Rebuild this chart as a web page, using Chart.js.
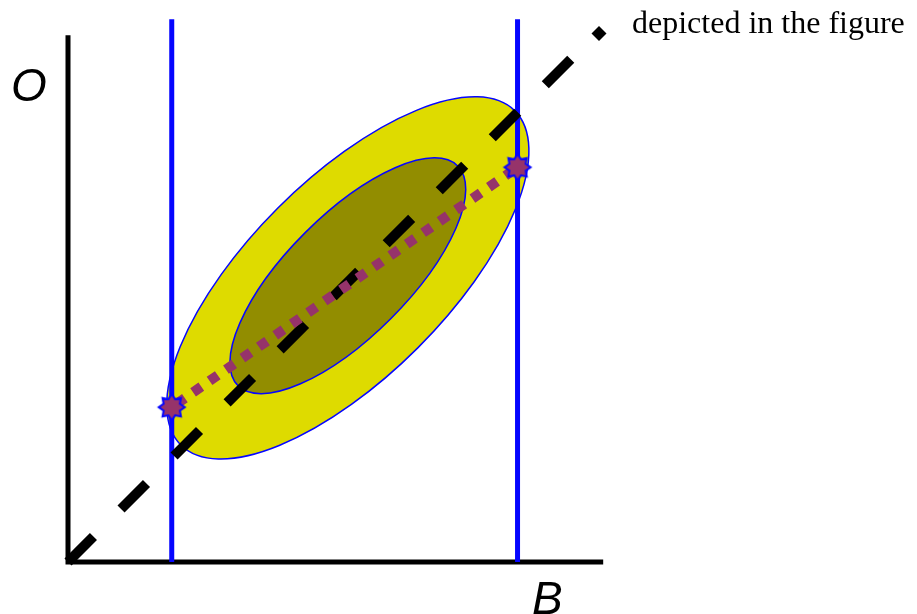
<!DOCTYPE html>
<html><head><meta charset="utf-8">
<script src="https://cdn.jsdelivr.net/npm/chart.js@4"></script>
<style>html,body{margin:0;padding:0;background:#fff}#wrap{width:917px;height:614px;position:relative}</style>
</head><body><div id="wrap"><canvas id="c"></canvas></div>
<script>
// ---- data (chart units; origin at the axes corner) ----
const axisX = [0, 0, 10.06];
const axisY = [9.9, 0, 0];
const boundX = [1.95, 8.45];        // vertical blue lines
const boundYBottom = 0;
const boundYTop = 10.2;
const diagX = [0, 9.55];
const diagY = [0, 9.55];
const pathX = [1.95, 8.45];         // dotted path with star ends
const pathY = [2.91, 7.42];
const ellipseCX = [5.26, 5.26];     // outer, inner
const ellipseCY = [5.34, 5.38];
const ellipseA = [4.44, 2.92];      // semi-major
const ellipseB = [1.86, 1.14];      // semi-minor
const ellipseAngleDeg = [45, 45];
const legendLabels = ['depicted in the figure'];
const axisLabels = ['O', 'B'];

// ---- styles ----
const BLUE = '#0505ff';
const PURPLE = '#96336a';
const ellipseFills = ['#dedb00', '#928d00'];

function makeStar(){
  const s = 34, c = document.createElement('canvas');
  c.width = s; c.height = s;
  const g = c.getContext('2d');
  const n = 8, ro = 13, ri = 8.8, cx = s/2, cy = s/2;
  g.beginPath();
  for (let i = 0; i < n*2; i++){
    const r = i % 2 ? ri : ro;
    const a = -Math.PI/2 + i*Math.PI/n;
    const x = cx + r*Math.cos(a), y = cy + r*Math.sin(a);
    i ? g.lineTo(x,y) : g.moveTo(x,y);
  }
  g.closePath();
  g.fillStyle = PURPLE; g.fill();
  g.lineWidth = 2; g.strokeStyle = BLUE; g.stroke();
  return c;
}
const star = makeStar();

const zip = (xs, ys) => xs.map((x,i)=>({x, y: ys[i]}));

const ellipsePlugin = {
  id: 'ellipses',
  beforeDatasetsDraw(chart){
    const {ctx, scales:{x, y}} = chart;
    ctx.save();
    for (let i = 0; i < ellipseCX.length; i++){
      const cx = x.getPixelForValue(ellipseCX[i]);
      const cy = y.getPixelForValue(ellipseCY[i]);
      const rx = Math.abs(x.getPixelForValue(ellipseCX[i] + ellipseA[i]) - cx);
      const ry = Math.abs(x.getPixelForValue(ellipseCX[i] + ellipseB[i]) - cx);
      ctx.beginPath();
      ctx.ellipse(cx, cy, rx, ry, -ellipseAngleDeg[i]*Math.PI/180, 0, Math.PI*2);
      ctx.fillStyle = ellipseFills[i];
      ctx.fill();
      ctx.lineWidth = 1.5;
      ctx.strokeStyle = BLUE;
      ctx.stroke();
    }
    ctx.restore();
  },
  afterDraw(chart){
    const {ctx} = chart;
    ctx.save();
    ctx.fillStyle = '#000';
    ctx.textBaseline = 'alphabetic';
    ctx.font = 'italic 46px "Liberation Sans"';
    ctx.fillText(axisLabels[0], 11, 101);
    ctx.fillText(axisLabels[1], 532, 614);
    // legend
    ctx.beginPath();
    const dx = 599, dy = 33.5, h = 7.5;
    ctx.moveTo(dx, dy-h); ctx.lineTo(dx+h, dy); ctx.lineTo(dx, dy+h); ctx.lineTo(dx-h, dy); ctx.closePath();
    ctx.fill();
    ctx.font = '32px "Liberation Serif"';
    ctx.fillText(legendLabels[0], 632, 33);
    ctx.restore();
  }
};

const U = 53.2, OX = 68, OY = 562;
new Chart(document.getElementById('c'), {
  type: 'scatter',
  data: {
    datasets: [
      { label: 'path', data: zip(pathX, pathY), showLine: true, order: 0,
        borderColor: PURPLE, borderWidth: 10, borderDash: [10, 10], borderDashOffset: -6, borderCapStyle: 'butt',
        pointStyle: star, pointRadius: 13, pointHoverRadius: 13 },
      { label: legendLabels[0], data: zip(diagX, diagY), showLine: true, order: 1,
        borderColor: '#000', borderWidth: 10, borderDash: [36, 39], borderCapStyle: 'butt',
        pointRadius: 0 },
      { label: 'b1', data: [{x: boundX[0], y: boundYBottom}, {x: boundX[0], y: boundYTop}], showLine: true, order: 2,
        borderColor: BLUE, borderWidth: 5, pointRadius: 0, borderCapStyle: 'butt' },
      { label: 'b2', data: [{x: boundX[1], y: boundYBottom}, {x: boundX[1], y: boundYTop}], showLine: true, order: 2,
        borderColor: BLUE, borderWidth: 5, pointRadius: 0, borderCapStyle: 'butt' },
      { label: 'axes', data: zip(axisX, axisY), showLine: true, order: 3,
        borderColor: '#000', borderWidth: 5, pointRadius: 0, borderJoinStyle: 'miter', borderCapStyle: 'butt' }
    ]
  },
  options: {
    responsive: true, maintainAspectRatio: false, animation: false,
    layout: { padding: 0, autoPadding: false },
    scales: {
      x: { type: 'linear', display: false, min: -OX/U, max: (917-OX)/U },
      y: { type: 'linear', display: false, min: -(614-OY)/U, max: OY/U }
    },
    plugins: { legend: { display: false }, tooltip: { enabled: false } },
    elements: { line: { tension: 0 } }
  },
  plugins: [ellipsePlugin]
});
</script></body></html>
